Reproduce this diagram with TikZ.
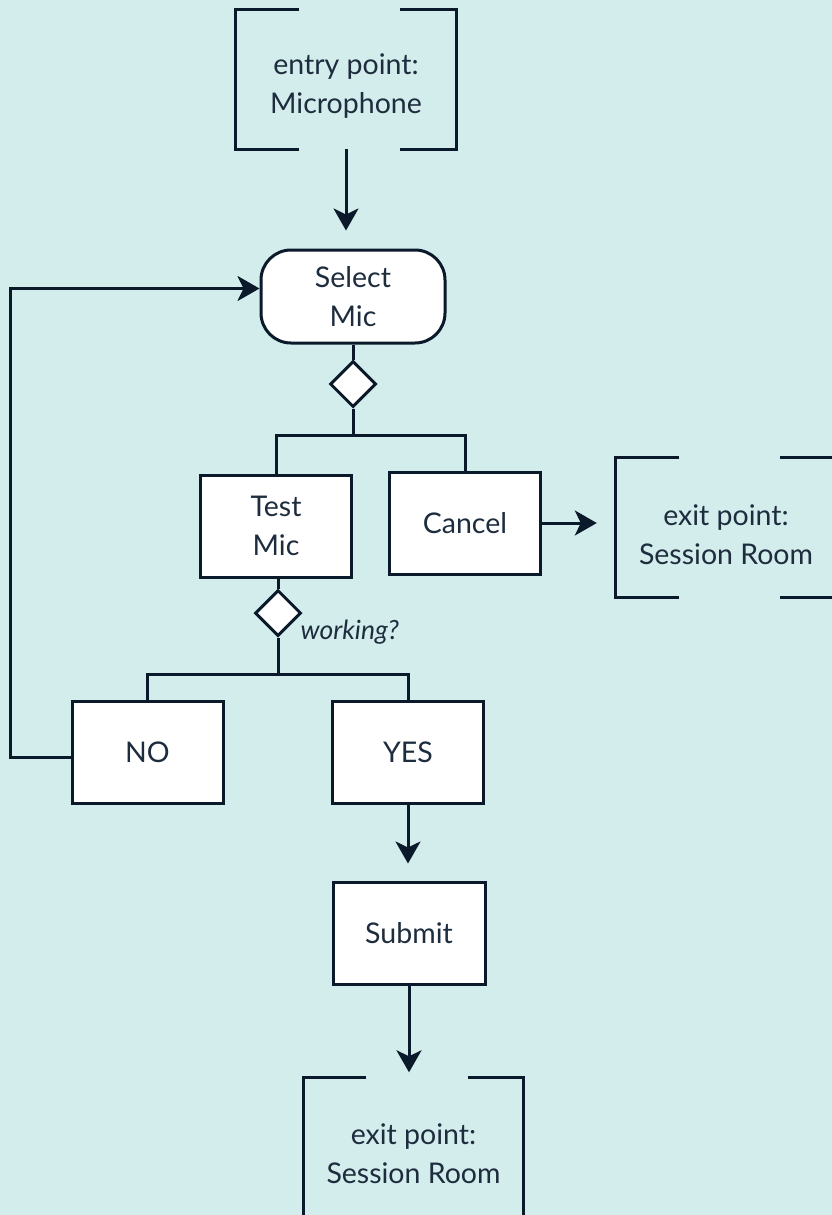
\documentclass[tikz,border=0pt]{standalone}
\usepackage{fontspec}
\setmainfont{Lato}
\usetikzlibrary{shapes.geometric,arrows.meta}

\definecolor{hinter}{HTML}{D3ECEC}
\definecolor{linie}{HTML}{0B1A2A}
\definecolor{schrift}{HTML}{1E2D3E}

% bracket frame round an entry or exit node (frame sits 7pt above the text)
\newcommand{\klammer}[1]{%
  \draw[verbindung] ([xshift=63pt,yshift=7pt]#1.north west) -- ([yshift=7pt]#1.north west) -- ([yshift=7pt]#1.south west) -- ([xshift=63pt,yshift=7pt]#1.south west);
  \draw[verbindung] ([xshift=-56pt,yshift=7pt]#1.north east) -- ([yshift=7pt]#1.north east) -- ([yshift=7pt]#1.south east) -- ([xshift=-56pt,yshift=7pt]#1.south east);
}

\begin{document}
\begin{tikzpicture}[x=1pt, y=-1pt,
    schriftart/.style={text=schrift, align=center, font=\fontsize{28.5}{39}\selectfont},
    kasten/.style={schriftart, draw=linie, fill=white, line width=3pt, minimum width=151pt, minimum height=102pt, inner sep=0pt},
    auswahl/.style={kasten, rounded corners=30pt, minimum width=184pt, minimum height=93pt},
    raute/.style={diamond, draw=linie, fill=white, line width=3pt, minimum size=46pt, inner sep=0pt, aspect=1},
    rahmen/.style={schriftart, minimum width=220pt, minimum height=139pt, inner sep=0pt},
    verbindung/.style={draw=linie, line width=3pt},
    pfeil/.style={verbindung, -{Stealth[length=22pt,width=25pt,inset=6pt]}},
]

\useasboundingbox (0,0) rectangle (832,1215);
\fill[hinter] (0,0) rectangle (832,1215);

% nodes
\node [rahmen] (eingang) at (346,86.5) {entry point:\\Microphone};
\node [auswahl] (auswahlmic) at (353,296.5) {Select\\Mic};
\node [raute] (raute1) at (353,384) {};
\node [kasten] (testmic) at (276,526) {Test\\Mic};
\node [kasten] (abbruch) at (465,523) {Cancel};
\node [rahmen] (ausgang1) at (726,534.5) {exit point:\\Session Room};
\node [raute] (raute2) at (278,613) {};
\node [schriftart, anchor=west, font=\fontsize{26.5}{30}\selectfont\itshape] (frage) at (297,632) {working?};
\node [kasten] (nein) at (147.5,752) {NO};
\node [kasten] (ja) at (408,752) {YES};
\node [kasten, minimum width=152pt] (senden) at (409,933) {Submit};
\node [rahmen] (ausgang2) at (413.5,1154) {exit point:\\Session Room};

\klammer{eingang}
\klammer{ausgang1}
\klammer{ausgang2}

% connectors
\draw [pfeil, shorten >=18pt] ([yshift=7pt]eingang.south) -- (eingang.south |- auswahlmic.north);
\draw [verbindung] (auswahlmic.south) -- (raute1.north);
\draw [verbindung] (raute1.south) -- ++(0,27) coordinate (gabel1);
\draw [verbindung] (gabel1) -| (testmic.north);
\draw [verbindung] (gabel1) -| (abbruch.north);
\draw [pfeil, shorten >=19pt] (abbruch.east) -- (abbruch.east -| ausgang1.west);
\draw [verbindung] (testmic.south -| raute2.north) -- (raute2.north);
\draw [verbindung] (raute2.south) -- ++(0,37) coordinate (gabel2);
\draw [verbindung] (gabel2) -| (nein.north);
\draw [verbindung] (gabel2) -| (ja.north);
\draw [pfeil] ([yshift=-5pt]nein.west) -- ++(-60,0) |- ([yshift=8pt]auswahlmic.west);
\draw [pfeil, shorten >=17pt] (ja.south) -- (ja.south |- senden.north);
\draw [pfeil, shorten >=12pt] (senden.south) -- (senden.south |- ausgang2.north);

\end{tikzpicture}
\end{document}
